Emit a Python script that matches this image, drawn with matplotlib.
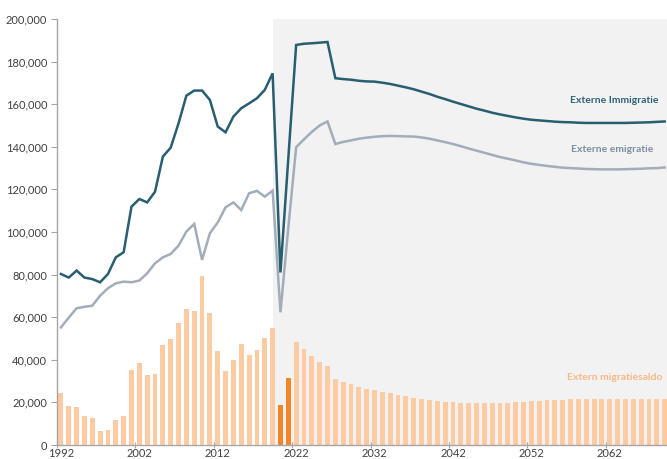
import numpy as np
import matplotlib.pyplot as plt
from matplotlib.ticker import FuncFormatter

plt.rcParams['font.family'] = ['Lato', 'DejaVu Sans']

# ---------------------------------------------------------------------------
# Data
# ---------------------------------------------------------------------------
years = list(range(1992, 2070))

immigratie = [
    80300, 78600, 81900, 78600, 77900, 76400, 80300, 88100, 90500, 111900,   # 1992-2001
    115500, 113900, 118900, 135400, 139600, 151000, 164000, 166400, 166400, 162000,  # 2002-2011
    149500, 146800, 154200, 158100, 160400, 162800, 166700, 174500, 81000, 134500,   # 2012-2021
    187800, 188400, 188600, 188900, 189200, 172200, 171800, 171500, 171000, 170700,  # 2022-2031
    170600, 170100, 169500, 168700, 167900, 167000, 165900, 164800, 163500, 162400,  # 2032-2041
    161200, 160100, 159000, 157900, 157000, 156000, 155200, 154500, 153800, 153200,  # 2042-2051
    152700, 152400, 152100, 151800, 151600, 151500, 151300, 151200, 151200, 151200,  # 2052-2061
    151200, 151200, 151200, 151300, 151400, 151500, 151700, 151900,                  # 2062-2069
]

emigratie = [
    55200, 59800, 64200, 64900, 65400, 70100, 73600, 75900, 76700, 76400,
    77200, 80600, 85300, 88100, 89700, 93600, 100200, 103800, 86900, 99400,
    104500, 111600, 113900, 110300, 118200, 119300, 116600, 119400, 62300, 102000,
    139800, 143500, 147000, 150000, 151900, 141300, 142300, 143000, 143800, 144300,
    144700, 145000, 145100, 145000, 144900, 144800, 144400, 143800, 143000, 142200,
    141300, 140300, 139200, 138200, 137200, 136200, 135200, 134400, 133600, 132700,
    132000, 131500, 131000, 130600, 130200, 130000, 129800, 129600, 129500, 129400,
    129400, 129400, 129500, 129600, 129700, 129900, 130000, 130300,
]

migratiesaldo = [
    24600, 18500, 17700, 13600, 12800, 6600, 6900, 11900, 13500, 35200,
    38300, 32900, 33500, 47000, 49900, 57100, 63700, 62800, 79300, 61800,
    44300, 34700, 39900, 47600, 42100, 44400, 50100, 54800, 18800, 31300,
    48200, 44900, 41800, 38800, 37100, 30800, 29400, 28500, 27100, 26400,
    25800, 25000, 24300, 23600, 22800, 22100, 21400, 21000, 20500, 20200,
    20000, 19900, 19800, 19700, 19700, 19800, 19900, 19900, 20200, 20300,
    20700, 20800, 21000, 21100, 21300, 21400, 21600, 21700, 21800, 21800,
    21800, 21800, 21800, 21800, 21800, 21800, 21800, 21800,
]

highlight_years = [2020, 2021]
projection_start = 2019

# ---------------------------------------------------------------------------
# Styling
# ---------------------------------------------------------------------------
c_imm = '#285e70'
c_emi = '#a3adba'
c_bar = '#fccba2'
c_bar_hi = '#f28528'
c_shade = '#f2f2f2'
c_axis = '#a6a6a6'
c_text = '#404040'

fig = plt.figure(figsize=(6.67, 4.59), dpi=100)
ax = fig.add_axes([57 / 667, 14 / 459, 610 / 667, 426 / 459])

x_left, x_right = 1991.5, 2069.3
ax.axvspan(projection_start, x_right + 1, color=c_shade, lw=0, zorder=0)

bar_colors = [c_bar_hi if y in highlight_years else c_bar for y in years]
ax.bar(years, migratiesaldo, width=0.62, color=bar_colors, zorder=2)

ax.plot(years, emigratie, color=c_emi, lw=1.8, zorder=3, solid_joinstyle='miter')
ax.plot(years, immigratie, color=c_imm, lw=1.8, zorder=4, solid_joinstyle='miter')

ax.text(2062.6, 161600, 'Externe Immigratie', color='#2f6376', fontsize=7.5,
        fontweight='bold', ha='center', va='center', zorder=5)
ax.text(2062.3, 138500, 'Externe emigratie', color='#7d8ea3', fontsize=7.5,
        fontweight='bold', ha='center', va='center', zorder=5)
ax.text(2062.6, 31600, 'Extern migratiesaldo', color='#f9b783', fontsize=7.5,
        fontweight='bold', ha='center', va='center', zorder=5)

ax.set_xlim(x_left, x_right)
ax.set_ylim(0, 200000)

ax.set_yticks(np.arange(0, 200001, 20000))
ax.yaxis.set_major_formatter(FuncFormatter(lambda v, p: f'{int(v):,}'))

# tick marks on category boundaries, labels on category centres
ax.set_xticks(np.arange(1991.5, 2069, 10))
ax.set_xticklabels([])
ax.set_xticks(np.arange(1992, 2070, 10), minor=True)
ax.set_xticklabels([str(y) for y in range(1992, 2070, 10)], minor=True)
ax.tick_params(axis='x', which='minor', length=0, pad=2)
ax.tick_params(axis='x', which='major', length=4, color=c_axis, direction='inout')

ax.tick_params(axis='both', which='both', labelsize=8, labelcolor=c_text)
ax.tick_params(axis='y', length=4, color=c_axis, direction='out', pad=3)

for side in ['top', 'right']:
    ax.spines[side].set_visible(False)
for side in ['left', 'bottom']:
    ax.spines[side].set_color(c_axis)
    ax.spines[side].set_linewidth(1.0)
ax.spines['bottom'].set_zorder(6)

fig.savefig('out.png', dpi=100)
